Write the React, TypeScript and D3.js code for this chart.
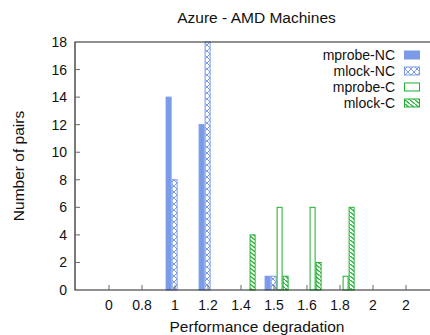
import React from "react";
import * as d3 from "d3";

const categories = ["0", "0.8", "1", "1.2", "1.4", "1.5", "1.6", "1.8", "2", "2"];
const seriesNames = ["mprobe-NC", "mlock-NC", "mprobe-C", "mlock-C"];
const mprobeNC = [0, 0, 14, 12, 0, 1, 0, 0, 0, 0];
const mlockNC = [0, 0, 8, 18, 0, 1, 0, 0, 0, 0];
const mprobeC = [0, 0, 0, 0, 0, 6, 6, 1, 0, 0];
const mlockC = [0, 0, 0, 0, 4, 1, 2, 6, 0, 0];
const yTicks = [0, 2, 4, 6, 8, 10, 12, 14, 16, 18];

const W = 430;
const H = 335;
const left = 75;
const top = 42;
const bottom = 290;
const right = 438;

const BLUE = "#7b9be8";
const GREEN = "#1fae2f";
const FONT = "'Liberation Sans', Arial, Helvetica, sans-serif";

const styles = [
  { fill: BLUE, stroke: BLUE },
  { fill: "url(#crossBlue)", stroke: BLUE },
  { fill: "#ffffff", stroke: GREEN },
  { fill: "url(#hatchGreen)", stroke: GREEN },
];

export default function App() {
  const series = [mprobeNC, mlockNC, mprobeC, mlockC];
  const idx = categories.map((_, i) => i);
  const x = d3.scalePoint<number>().domain(idx).range([109, 406]);
  const y = d3.scaleLinear().domain([0, 18]).range([bottom, top]);
  const barW = 6;
  const clusterStart = -9.4;

  return (
    <svg
      width={W}
      height={H}
      style={{ position: "absolute", left: 0, top: 0 }}
      fontFamily={FONT}
    >
      <defs>
        <pattern id="crossBlue" patternUnits="userSpaceOnUse" width="6" height="6">
          <rect width="6" height="6" fill="#fff" />
          <path d="M0,0 L6,6 M6,0 L0,6" stroke={BLUE} strokeWidth="1" fill="none" />
        </pattern>
        <pattern id="hatchGreen" patternUnits="userSpaceOnUse" width="5" height="4">
          <rect width="5" height="4" fill="#fff" />
          <path d="M-1,-0.8 L6,4.8" stroke={GREEN} strokeWidth="1.3" fill="none" />
        </pattern>
      </defs>

      <rect width={W} height={H} fill="#fff" />

      {/* bars */}
      {series.map((vals, s) =>
        vals.map((v, i) => {
          if (v <= 0) return null;
          const x0 = (x(i) as number) + clusterStart + s * barW;
          return (
            <rect
              key={`${s}-${i}`}
              x={x0 + 0.5}
              y={y(v)}
              width={barW - 1}
              height={bottom - y(v)}
              fill={styles[s].fill}
              stroke={styles[s].stroke}
              strokeWidth={1}
            />
          );
        })
      )}

      {/* frame */}
      <path
        d={`M${right},${top} L${left},${top} L${left},${bottom} L${right},${bottom}`}
        fill="none"
        stroke="#222"
        strokeWidth={1.2}
      />

      {/* y axis ticks */}
      {yTicks.map((t) => (
        <g key={`y${t}`}>
          {t > 0 && t < 18 && (
            <line x1={left} x2={left + 5} y1={y(t)} y2={y(t)} stroke="#666" strokeWidth={1} />
          )}
          <text x={67} y={y(t)} dy="0.36em" textAnchor="end" fontSize={14} fill="#111">
            {t}
          </text>
        </g>
      ))}

      {/* x axis ticks */}
      {categories.map((c, i) => (
        <g key={`x${i}`}>
          <line
            x1={x(i) as number}
            x2={x(i) as number}
            y1={bottom}
            y2={bottom - 5}
            stroke="#666"
            strokeWidth={1}
          />
          <text x={x(i) as number} y={309.5} textAnchor="middle" fontSize={14} fill="#111">
            {c}
          </text>
        </g>
      ))}

      {/* title and axis labels */}
      <text x={256.5} y={22.7} textAnchor="middle" fontSize={15.5} fill="#111">
        Azure - AMD Machines
      </text>
      <text x={257} y={332} textAnchor="middle" fontSize={15.5} fill="#111">
        Performance degradation
      </text>
      <text
        transform="translate(24,166) rotate(-90)"
        textAnchor="middle"
        fontSize={15.5}
        fill="#111"
      >
        Number of pairs
      </text>

      {/* legend */}
      {seriesNames.map((name, s) => {
        const cy = 55 + s * 16;
        return (
          <g key={name}>
            <text x={395} y={cy} dy="0.36em" textAnchor="end" fontSize={14} fill="#111">
              {name}
            </text>
            <rect
              x={404.5}
              y={cy - 4}
              width={15}
              height={8}
              fill={styles[s].fill}
              stroke={styles[s].stroke}
              strokeWidth={1}
            />
          </g>
        );
      })}
    </svg>
  );
}
